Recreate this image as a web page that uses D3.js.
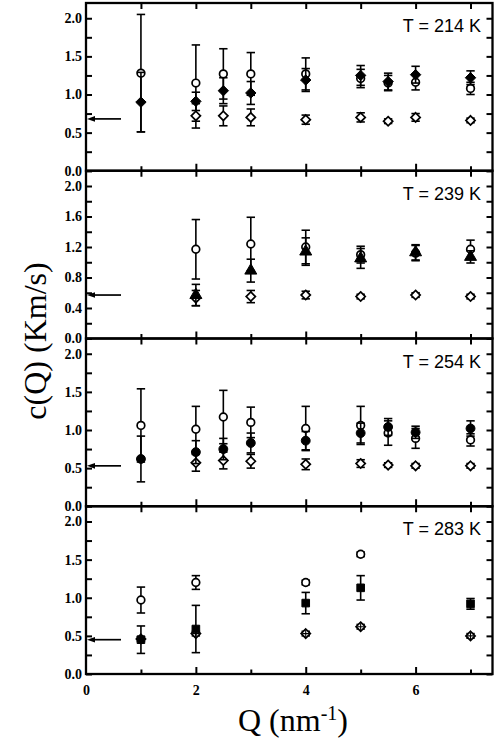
<!DOCTYPE html>
<html>
<head>
<meta charset="utf-8">
<script src="https://cdn.jsdelivr.net/npm/d3@7/dist/d3.min.js"></script>
<style>
  html, body { margin: 0; padding: 0; background: #fff; }
  svg { display: block; }
</style>
</head>
<body>
<svg id="chart" width="498" height="745"></svg>
<script>
// ---- data: sound velocity c(Q) in km/s versus Q (nm^-1), four temperatures ----
const temps = ["T = 214 K", "T = 239 K", "T = 254 K", "T = 283 K"];
const arrowValues = [0.68, 0.57, 0.53, 0.45];

// T = 214 K
const qOpenCirc214 = [1, 2, 2.5, 3, 4, 5, 5.5, 6, 7];
const openCirc214 = [1.28, 1.15, 1.27, 1.27, 1.27, 1.21, 1.15, 1.16, 1.08];
const openCircErr214 = [0.77, 0.50, 0.33, 0.28, 0.21, 0.12, 0.10, 0.10, 0.08];
const qFilled214 = [1, 2, 2.5, 3, 4, 5, 5.5, 6, 7];
const filled214 = [0.90, 0.91, 1.05, 1.02, 1.19, 1.25, 1.17, 1.26, 1.22];
const filledErr214 = [0.39, 0.12, 0.17, 0.15, 0.15, 0.13, 0.11, 0.11, 0.09];
const qOpenDiam214 = [2, 2.5, 3, 4, 5, 5.5, 6, 7];
const openDiam214 = [0.72, 0.72, 0.70, 0.67, 0.70, 0.65, 0.70, 0.66];
const openDiamErr214 = [0.16, 0.13, 0.11, 0.06, 0.06, 0.03, 0.05, 0.03];

// T = 239 K
const qOpenCirc239 = [2, 3, 4, 5, 6, 7];
const openCirc239 = [1.17, 1.24, 1.20, 1.10, 1.12, 1.17];
const openCircErr239 = [0.39, 0.35, 0.22, 0.11, 0.10, 0.12];
const qFilled239 = [2, 3, 4, 5, 6, 7];
const filled239 = [0.57, 0.89, 1.14, 1.05, 1.13, 1.07];
const filledErr239 = [0.14, 0.15, 0.18, 0.13, 0.10, 0.08];
const qOpenDiam239 = [2, 3, 4, 5, 6, 7];
const openDiam239 = [0.53, 0.55, 0.57, 0.55, 0.57, 0.55];
const openDiamErr239 = [0.10, 0.08, 0.05, 0.03, 0.03, 0.03];

// T = 254 K
const qOpenCirc254 = [1, 2, 2.5, 3, 4, 5, 5.5, 6, 7];
const openCirc254 = [1.06, 1.01, 1.17, 1.10, 1.02, 1.06, 0.96, 0.89, 0.87];
const openCircErr254 = [0.48, 0.30, 0.35, 0.20, 0.29, 0.25, 0.16, 0.13, 0.08];
const qFilled254 = [1, 2, 2.5, 3, 4, 5, 5.5, 6, 7];
const filled254 = [0.62, 0.71, 0.75, 0.83, 0.86, 0.96, 1.04, 0.97, 1.02];
const filledErr254 = [0.30, 0.15, 0.14, 0.13, 0.12, 0.13, 0.11, 0.08, 0.10];
const qOpenDiam254 = [2, 2.5, 3, 4, 5, 5.5, 6, 7];
const openDiam254 = [0.57, 0.60, 0.59, 0.55, 0.56, 0.54, 0.53, 0.53];
const openDiamErr254 = [0.11, 0.11, 0.09, 0.07, 0.05, 0.03, 0.03, 0.03];

// T = 283 K
const qOpenCirc283 = [1, 2, 4, 5];
const openCirc283 = [0.97, 1.20, 1.20, 1.57];
const openCircErr283 = [0.17, 0.09, 0.03, 0.03];
const qFilled283 = [1, 2, 4, 5, 7];
const filled283 = [0.45, 0.59, 0.93, 1.13, 0.92];
const filledErr283 = [0.18, 0.31, 0.14, 0.16, 0.07];
const qOpenDiam283 = [1, 2, 4, 5, 7];
const openDiam283 = [0.46, 0.53, 0.53, 0.62, 0.50];
const openDiamErr283 = [0.03, 0.03, 0.03, 0.03, 0.03];

const xTickValues = [0, 2, 4, 6];

// ---- assemble panels ----
function series(q, v, e) { return q.map((d, i) => ({ q: d, v: v[i], e: e[i] })); }
const panels = [
  { label: temps[0], arrow: arrowValues[0], filledSym: "diamond", major: 0.5, minor: 0.25, crossed: false,
    circ: series(qOpenCirc214, openCirc214, openCircErr214),
    filled: series(qFilled214, filled214, filledErr214),
    diam: series(qOpenDiam214, openDiam214, openDiamErr214) },
  { label: temps[1], arrow: arrowValues[1], filledSym: "triangle", major: 0.4, minor: 0.2, crossed: false,
    circ: series(qOpenCirc239, openCirc239, openCircErr239),
    filled: series(qFilled239, filled239, filledErr239),
    diam: series(qOpenDiam239, openDiam239, openDiamErr239) },
  { label: temps[2], arrow: arrowValues[2], filledSym: "circle", major: 0.5, minor: 0.25, crossed: false,
    circ: series(qOpenCirc254, openCirc254, openCircErr254),
    filled: series(qFilled254, filled254, filledErr254),
    diam: series(qOpenDiam254, openDiam254, openDiamErr254) },
  { label: temps[3], arrow: arrowValues[3], filledSym: "square", major: 0.5, minor: 0.25, crossed: true,
    circ: series(qOpenCirc283, openCirc283, openCircErr283),
    filled: series(qFilled283, filled283, filledErr283),
    diam: series(qOpenDiam283, openDiam283, openDiamErr283) }
];

// ---- layout ----
const plotLeft = 86, plotRight = 492.5, plotTop = 3, plotBottom = 674;
const panelH = (plotBottom - plotTop) / panels.length;
const svg = d3.select("#chart");
const x = d3.scaleLinear().domain([0, 7.4]).range([plotLeft, plotRight]);

const serif = "'Liberation Serif', 'Times New Roman', serif";
const sans = "'Liberation Sans', Arial, sans-serif";

// square-proportioned diamond (rotated square) of half-diagonal r
const diamondPath = r => `M0,${-r}L${r},0L0,${r}L${-r},0Z`;
const symbols = {
  diamond: () => diamondPath(5.2),
  triangle: d3.symbol().type(d3.symbolTriangle).size(62),
  circle: d3.symbol().type(d3.symbolCircle).size(62),
  square: d3.symbol().type(d3.symbolSquare).size(58),
  openCircle: d3.symbol().type(d3.symbolCircle).size(46),
  openDiamond: () => diamondPath(4.6)
};

function drawErrors(g, data, y) {
  const cap = 4.2;
  const eg = g.append("g").attr("stroke", "#000").attr("stroke-width", 1.6).attr("fill", "none");
  data.forEach(d => {
    const y0 = y(d.v - d.e), y1 = y(d.v + d.e), xx = x(d.q);
    eg.append("line").attr("x1", xx).attr("x2", xx).attr("y1", y0).attr("y2", y1);
    eg.append("line").attr("x1", xx - cap).attr("x2", xx + cap).attr("y1", y0).attr("y2", y0);
    eg.append("line").attr("x1", xx - cap).attr("x2", xx + cap).attr("y1", y1).attr("y2", y1);
  });
}

function drawSymbols(g, data, y, sym, filled, crossed) {
  const sg = g.append("g");
  data.forEach(d => {
    sg.append("path")
      .attr("transform", `translate(${x(d.q)},${y(d.v)})`)
      .attr("d", sym())
      .attr("fill", filled ? "#000" : "#fff")
      .attr("stroke", "#000")
      .attr("stroke-width", filled ? 1 : 1.7);
    if (crossed) {
      sg.append("path")
        .attr("transform", `translate(${x(d.q)},${y(d.v)})`)
        .attr("d", "M-3.5,0H3.5M0,-3.5V3.5")
        .attr("stroke", "#000").attr("stroke-width", 1.1);
    }
  });
}

panels.forEach((p, i) => {
  const pTop = plotTop + i * panelH, pBot = pTop + panelH;
  const y = d3.scaleLinear().domain([0, 2.2]).range([pBot, pTop]);
  const g = svg.append("g");

  const majors = d3.range(0, 2.0001, p.major);
  const allY = d3.range(0, 2.2001, p.minor);

  // left axis with labels, inward ticks
  const la = g.append("g").attr("transform", `translate(${plotLeft},0)`)
    .call(d3.axisLeft(y).tickValues(allY).tickSizeInner(-6).tickSizeOuter(0).tickPadding(4)
      .tickFormat(v => majors.some(m => Math.abs(m - v) < 1e-6) ? d3.format(".1f")(v) : ""));
  // right axis, inward ticks
  const ra = g.append("g").attr("transform", `translate(${plotRight},0)`)
    .call(d3.axisRight(y).tickValues(allY).tickSizeInner(-6).tickSizeOuter(0).tickFormat(""));
  // top and bottom ticks
  const qTicks = d3.range(1, 8);
  const ta = g.append("g").attr("transform", `translate(0,${pTop})`)
    .call(d3.axisTop(x).tickValues(qTicks).tickSizeInner(-6).tickSizeOuter(0).tickFormat(""));
  const ba = g.append("g").attr("transform", `translate(0,${pBot})`)
    .call(d3.axisBottom(x).tickValues(qTicks).tickSizeInner(-6).tickSizeOuter(0).tickFormat(""));
  ba.selectAll(".tick line").attr("y2", d => (d % 2 === 0 ? -7 : -4.5));
  [la, ra, ta, ba].forEach(a => {
    a.select(".domain").remove();
    a.selectAll(".tick line").attr("stroke", "#000").attr("stroke-width", 2);
  });
  la.selectAll(".tick text")
    .attr("font-family", serif).attr("font-weight", "bold").attr("font-size", 14).attr("fill", "#000");

  // panel frame
  g.append("rect").attr("x", plotLeft).attr("y", pTop).attr("width", plotRight - plotLeft).attr("height", panelH)
    .attr("fill", "none").attr("stroke", "#000").attr("stroke-width", 2.3);

  // arrow marking the low-Q value
  const ay = y(p.arrow);
  g.append("line").attr("x1", plotLeft + 35).attr("x2", plotLeft + 6).attr("y1", ay).attr("y2", ay)
    .attr("stroke", "#000").attr("stroke-width", 1.7);
  g.append("path").attr("d", `M${plotLeft + 1},${ay}L${plotLeft + 9},${ay - 2.8}L${plotLeft + 9},${ay + 2.8}Z`)
    .attr("fill", "#000");

  // series: open circles, open diamonds, filled symbols
  drawErrors(g, p.circ, y);
  drawSymbols(g, p.circ, y, symbols.openCircle, false, false);
  drawErrors(g, p.diam, y);
  drawSymbols(g, p.diam, y, symbols.openDiamond, false, p.crossed);
  drawErrors(g, p.filled, y);
  drawSymbols(g, p.filled, y, symbols[p.filledSym], true, false);

  // temperature label
  g.append("text").attr("x", 481).attr("y", pTop + 29).attr("text-anchor", "end")
    .attr("font-family", sans).attr("font-size", 18).attr("fill", "#000").text(p.label);
});

// x tick labels under the bottom panel
const xl = svg.append("g").attr("transform", `translate(0,${plotBottom})`)
  .call(d3.axisBottom(x).tickValues(xTickValues).tickSize(0).tickPadding(11).tickFormat(d3.format("d")));
xl.select(".domain").remove();
xl.selectAll(".tick text").attr("font-family", serif).attr("font-weight", "bold")
  .attr("font-size", 14).attr("fill", "#000");

// axis titles
svg.append("text").attr("transform", "translate(46,341) rotate(-90)")
  .attr("text-anchor", "middle").attr("font-family", serif).attr("font-size", 32).attr("fill", "#000")
  .text("c(Q) (Km/s)");

const xTitle = svg.append("text").attr("x", 293).attr("y", 731).attr("text-anchor", "middle")
  .attr("font-family", serif).attr("font-size", 32).attr("fill", "#000");
xTitle.append("tspan").text("Q (nm");
xTitle.append("tspan").attr("font-size", 20).attr("dy", -11).text("-1");
xTitle.append("tspan").attr("dy", 11).text(")");
</script>
</body>
</html>
